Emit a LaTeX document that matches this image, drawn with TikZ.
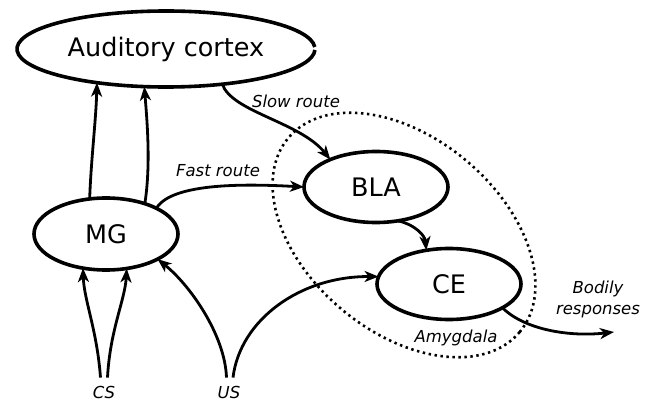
\documentclass[tikz,border=0pt]{standalone}
\usepackage{fontspec}
\setmainfont{DejaVu Sans}
\usetikzlibrary{arrows.meta,shapes.geometric}

\tikzset{
  region/.style={ellipse, draw, line width=3.6pt, inner sep=0pt, outer sep=0pt,
                 font=\fontsize{25.5}{30}\selectfont},
  label/.style={font=\itshape\fontsize{16.5}{21}\selectfont, inner sep=0pt, align=center},
  link/.style={line width=2.8pt, -{Stealth[length=14pt, width=11pt, inset=4pt]}},
  area/.style={line width=2.6pt, dash pattern=on 2.4pt off 3.6pt},
}

\begin{document}
\begin{tikzpicture}[x=1pt, y=-1pt]
  \useasboundingbox (0,0) rectangle (654,404);

  % brain regions
  \node[region, draw=none, minimum width=298pt, minimum height=76pt] (ac) at (166,49) {Auditory cortex};
  % outline of the cortex with its small opening on the right
  \draw[line width=3.6pt]
    ([shift={(3:149pt and 38pt)}]ac.center)
    arc[start angle=3, end angle=358.5, x radius=149pt, y radius=38pt];
  \node[region, minimum width=144pt, minimum height=72pt] (mg) at (106,234) {MG};
  \node[region, minimum width=144pt, minimum height=71pt] (bla) at (376,187) {BLA};
  \node[region, minimum width=144pt, minimum height=71pt] (ce) at (449,284) {CE};

  % amygdala outline
  \draw[area, rotate around={-40:(404,235)}] (404,235) ellipse (151pt and 97pt);
  \node[label] (amy) at (456,338) {Amygdala};

  % stimuli
  \node[label] (cs) at (104,392) {CS};
  \node[label] (us) at (229,392) {US};

  % MG to auditory cortex
  \draw[link] (mg.115) .. controls (91,160) and (96,120) .. (ac.206);
  \draw[link] (mg.38) .. controls (151,165) and (147,120) .. (ac.240);

  % CS to MG
  \draw[link] ([xshift=-3.5pt, yshift=8pt]cs.north) .. controls (97,330) and (84,300) .. (mg.-124);
  \draw[link] ([xshift=3.5pt, yshift=8pt]cs.north) .. controls (110,330) and (125,300) .. (mg.-59);

  % US to MG and CE
  \draw[link] ([xshift=-2.5pt, yshift=8pt]us.north) .. controls (225,335) and (190,285) .. (mg.-26);
  \draw[link] ([xshift=4pt, yshift=8pt]us.north) .. controls (240,320) and (300,276) .. (ce.174);

  % slow route
  \draw[link] (ac.-32) .. controls (232,112) and (300,122) .. (bla.149);
  \node[label] (slow) at (296,101) {Slow route};

  % fast route
  \draw[link] (mg.27) .. controls (172,182) and (250,184) .. (bla.180);
  \node[label] (fast) at (218,171) {Fast route};

  % BLA to CE
  \draw[link] (bla.-57) .. controls (416,225) and (425,236) .. (ce.124);

  % output
  \coordinate (out) at (614,332);
  \draw[link] (ce.-24) .. controls (525,330) and (570,337) .. (out);
  \node[label] (body) at (598,299) {Bodily\\responses};
\end{tikzpicture}
\end{document}
